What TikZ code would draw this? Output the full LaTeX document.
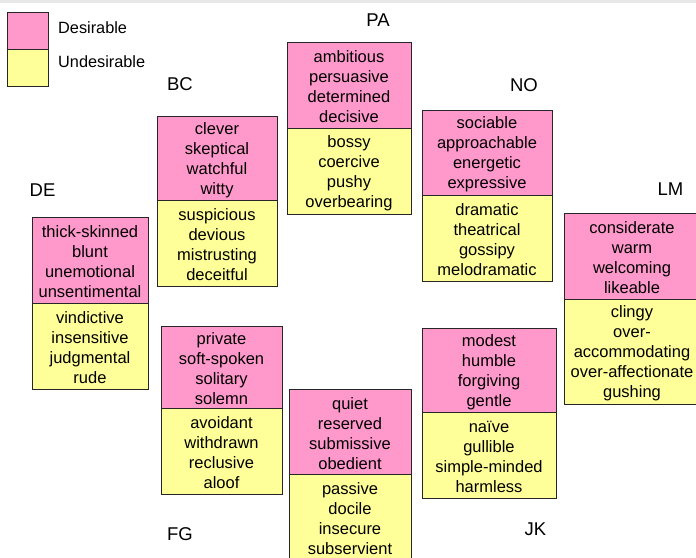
\documentclass[tikz,border=0pt]{standalone}
\usepackage{fontspec}
\setmainfont{Liberation Sans}
\definecolor{pinkc}{HTML}{FF99CC}
\definecolor{yellowc}{HTML}{FFFF99}
\definecolor{topbar}{HTML}{E8E8E8}
% #1 style, #2 name, #3 width, #4 height, #5 centre, #6 words
\newcommand{\wordbox}[6]{%
  \node[#1, minimum width=#3, minimum height=#4] (#2) at #5 {};
  \node[words] (#2t) at ([yshift=-2pt]#2.center) {#6};}
\begin{document}
\begin{tikzpicture}[x=1pt,y=-1pt,
  sect/.style={draw=black!85, line width=0.9pt, rectangle, inner sep=0pt},
  des/.style={sect, fill=pinkc},
  und/.style={sect, fill=yellowc},
  words/.style={inner sep=0pt, align=center, font=\fontsize{16.5}{20}\selectfont, text=black},
  grp/.style={font=\fontsize{18.5}{20}\selectfont, inner sep=0pt},
  leg/.style={font=\fontsize{16.3}{18}\selectfont, inner sep=0pt, anchor=west},
  legbox/.style={draw=black!85, line width=0.9pt, rectangle, inner sep=0pt, minimum width=41, minimum height=37}]
\useasboundingbox (0,0) rectangle (696,557);
\fill[topbar] (0,0) rectangle (696,3);

% legend
\node[legbox, fill=pinkc] (legD) at (27.5,30.5) {};
\node[legbox, fill=yellowc] (legU) at (27.5,67.5) {};
\node[leg] (legDt) at (58,28) {Desirable};
\node[leg] (legUt) at (58,62) {Undesirable};

% group labels
\node[grp] (lPA) at (378,20) {PA};
\node[grp] (lBC) at (180,84.5) {BC};
\node[grp] (lNO) at (524,85) {NO};
\node[grp] (lDE) at (42.5,190.5) {DE};
\node[grp] (lLM) at (670.5,189.5) {LM};
\node[grp] (lFG) at (180,534.5) {FG};
\node[grp] (lJK) at (535.5,529.5) {JK};

% PA
\wordbox{und}{paU}{124}{86}{(349,171)}{bossy\\coercive\\pushy\\overbearing}
\wordbox{des}{paD}{124}{86}{(349,85)}{ambitious\\persuasive\\determined\\decisive}
% BC
\wordbox{und}{bcU}{120}{86}{(217,243)}{suspicious\\devious\\mistrusting\\deceitful}
\wordbox{des}{bcD}{120}{84}{(217,158)}{clever\\skeptical\\watchful\\witty}
% NO
\wordbox{und}{noU}{130}{86}{(487,238)}{dramatic\\theatrical\\gossipy\\melodramatic}
\wordbox{des}{noD}{130}{85}{(487,152.5)}{sociable\\approachable\\energetic\\expressive}
% LM
\wordbox{und}{lmU}{136}{105}{(632,351.5)}{clingy\\over-\\accommodating\\over-affectionate\\gushing}
\wordbox{des}{lmD}{136}{86}{(632,256)}{considerate\\warm\\welcoming\\likeable}
% DE
\wordbox{und}{deU}{116}{86}{(90,346)}{vindictive\\insensitive\\judgmental\\rude}
\wordbox{des}{deD}{116}{86}{(90,260)}{thick-skinned\\blunt\\unemotional\\unsentimental}
% FG
\wordbox{und}{fgU}{121}{86}{(221.5,451)}{avoidant\\withdrawn\\reclusive\\aloof}
\wordbox{des}{fgD}{121}{82}{(221.5,367)}{private\\soft-spoken\\solitary\\solemn}
% HI (quiet)
\wordbox{und}{hiU}{122}{86}{(350,517)}{passive\\docile\\insecure\\subservient}
\wordbox{des}{hiD}{122}{85}{(350,431.5)}{quiet\\reserved\\submissive\\obedient}
% JK
\wordbox{und}{jkU}{134}{86}{(489,455)}{naïve\\gullible\\simple-minded\\harmless}
\wordbox{des}{jkD}{134}{84}{(489,370)}{modest\\humble\\forgiving\\gentle}
\end{tikzpicture}
\end{document}
